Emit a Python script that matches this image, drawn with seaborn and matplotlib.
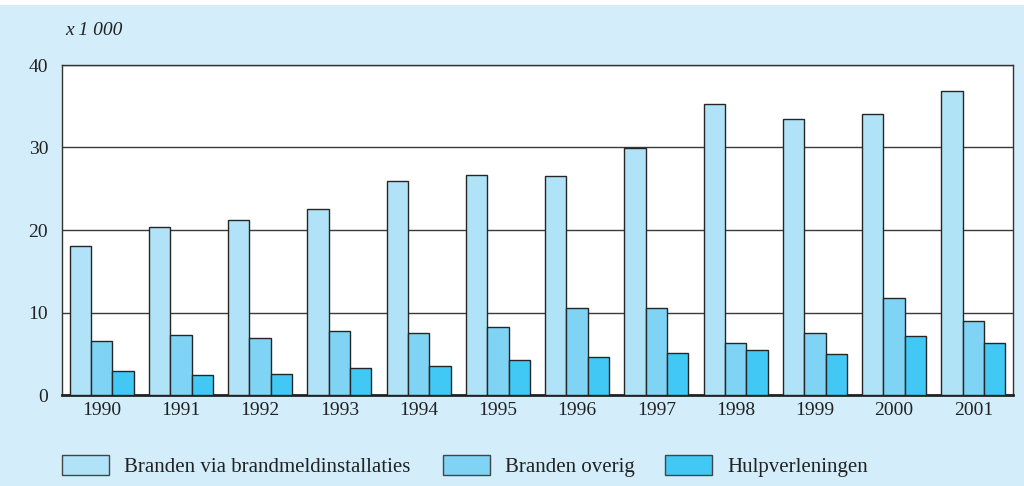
import matplotlib.pyplot as plt
import matplotlib.patches as mpatches
import seaborn as sns
import pandas as pd

# Data (x 1 000)
years = ['1990', '1991', '1992', '1993', '1994', '1995',
         '1996', '1997', '1998', '1999', '2000', '2001']
brandmeld = [18.0, 20.4, 21.2, 22.5, 25.9, 26.7, 26.6, 29.9, 35.3, 33.4, 34.1, 36.9]
overig = [6.6, 7.3, 6.9, 7.8, 7.5, 8.3, 10.5, 10.5, 6.3, 7.5, 11.7, 9.0]
hulp = [2.9, 2.4, 2.6, 3.3, 3.5, 4.2, 4.6, 5.1, 5.4, 5.0, 7.1, 6.3]

series = ['Branden via brandmeldinstallaties', 'Branden overig', 'Hulpverleningen']
colors = ['#b0e2f8', '#7fd3f5', '#42c8f4']
bg = '#d3eefa'

df = pd.DataFrame({
    'year': years * 3,
    'value': brandmeld + overig + hulp,
    'series': [s for s in series for _ in years],
})

sns.set_style('white')
plt.rcParams['font.family'] = ['Liberation Serif', 'DejaVu Serif']

fig = plt.figure(figsize=(10.24, 4.86), dpi=100, facecolor=bg)
# white strip at the very top (cut-off page)
fig.patches.append(mpatches.Rectangle((0, 1 - 5 / 486), 1, 5 / 486, transform=fig.transFigure,
                                      facecolor='white', edgecolor='none', zorder=0))
ax = fig.add_axes([62 / 1024, 1 - 395 / 486, (1013 - 62) / 1024, (395 - 65) / 486])
ax.set_facecolor('white')

sns.barplot(data=df, x='year', y='value', hue='series', palette=colors, saturation=1,
            edgecolor='#262626', linewidth=1.0, width=0.81, gap=0,
            legend=False, ax=ax, zorder=3)

ax.set_xlim(-0.5, len(years) - 0.5)
ax.set_ylim(0, 40)
ax.set_yticks([0, 10, 20, 30, 40])
ax.yaxis.grid(True, color='#3a3a3a', linewidth=1.0)
ax.set_axisbelow(True)
ax.set_xlabel('')
ax.set_ylabel('')
ax.tick_params(axis='both', length=0, labelsize=14, colors='#222222')
ax.tick_params(axis='y', pad=10)
ax.tick_params(axis='x', pad=5)

for side in ['left', 'right', 'top']:
    ax.spines[side].set_color('#333333')
    ax.spines[side].set_linewidth(1.0)
ax.spines['bottom'].set_color('#222222')
ax.spines['bottom'].set_linewidth(2.0)

fig.text(65 / 1024, 1 - 30 / 486, 'x 1 000', style='italic', fontsize=14,
         color='#222222', va='center', ha='left')

# one legend entry per series, placed like the original
legend_x = [62, 443, 665]
for s, c, lx in zip(series, colors, legend_x):
    h = mpatches.Patch(facecolor=c, edgecolor='#444444', linewidth=1.0, label=s)
    fig.legend(handles=[h], loc='center left', bbox_to_anchor=(lx / 1024, 1 - 466 / 486),
               frameon=False, fontsize=15, handlelength=2.26, handleheight=1.1,
               handletextpad=0.72, borderpad=0, borderaxespad=0, labelcolor='#222222')

fig.savefig('out.png', dpi=100, facecolor=bg)
